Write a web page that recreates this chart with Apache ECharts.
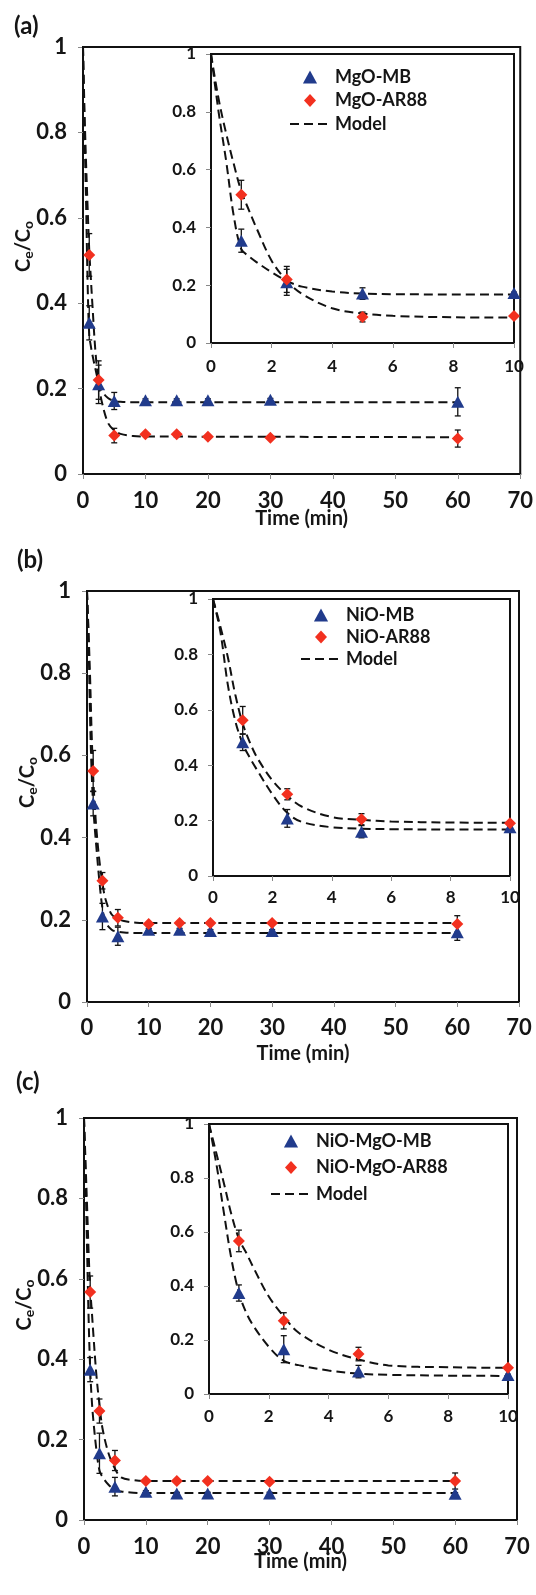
<!DOCTYPE html>
<html>
<head>
<meta charset="utf-8">
<script src="https://cdn.jsdelivr.net/npm/echarts@6.0.0/dist/echarts.min.js"></script>
<style>
html, body { margin: 0; padding: 0; background: #fff; }
#chart { width: 536px; height: 1595px; }
</style>
</head>
<body>
<div id="chart"></div>
<script>
var times = [1, 2.5, 5, 10, 15, 20, 30, 60];
var modelTimes = [0, 0.25, 0.5, 0.75, 1, 1.25, 1.5, 2, 2.5, 3, 4, 5, 6, 8, 10, 15, 20, 30, 60];

// (a) MgO
var mgoMB = [0.354, 0.21, 0.171, 0.173, 0.173, 0.173, 0.174, 0.169];
var mgoMBErr = [0.04, 0.045, 0.02, 0.003, 0.003, 0.003, 0.003, 0.033];
var mgoAR = [0.513, 0.22, 0.09, 0.093, 0.093, 0.087, 0.085, 0.083];
var mgoARErr = [0.05, 0.045, 0.017, 0.003, 0.003, 0.003, 0.003, 0.02];
var mgoMBModel = [1, 0.80, 0.63, 0.44, 0.325, 0.30, 0.28, 0.245, 0.215, 0.195, 0.178, 0.171, 0.169, 0.168, 0.168, 0.168, 0.168, 0.168, 0.168];
var mgoARModel = [1, 0.845, 0.725, 0.62, 0.525, 0.46, 0.398, 0.285, 0.215, 0.17, 0.12, 0.102, 0.094, 0.089, 0.088, 0.088, 0.087, 0.087, 0.086];

// (b) NiO
var nioMB = [0.483, 0.208, 0.16, 0.176, 0.176, 0.173, 0.173, 0.17];
var nioMBErr = [0.03, 0.032, 0.022, 0.003, 0.003, 0.003, 0.003, 0.02];
var nioAR = [0.562, 0.295, 0.205, 0.19, 0.192, 0.192, 0.192, 0.19];
var nioARErr = [0.05, 0.02, 0.02, 0.003, 0.003, 0.003, 0.003, 0.02];
var nioMBModel = [1, 0.88, 0.69, 0.56, 0.478, 0.425, 0.38, 0.295, 0.228, 0.195, 0.176, 0.171, 0.169, 0.168, 0.168, 0.168, 0.168, 0.168, 0.168];
var nioARModel = [1, 0.9, 0.79, 0.655, 0.55, 0.48, 0.425, 0.345, 0.29, 0.25, 0.213, 0.203, 0.197, 0.193, 0.192, 0.192, 0.192, 0.192, 0.192];

// (c) NiO-MgO
var nmMB = [0.374, 0.166, 0.083, 0.07, 0.066, 0.066, 0.066, 0.065];
var nmMBErr = [0.03, 0.05, 0.023, 0.003, 0.003, 0.003, 0.003, 0.003];
var nmAR = [0.567, 0.271, 0.148, 0.097, 0.097, 0.097, 0.095, 0.097];
var nmARErr = [0.04, 0.03, 0.025, 0.003, 0.003, 0.003, 0.003, 0.02];
var nmMBModel = [1, 0.85, 0.67, 0.5, 0.375, 0.3, 0.25, 0.175, 0.123, 0.107, 0.087, 0.075, 0.071, 0.068, 0.067, 0.067, 0.067, 0.067, 0.067];
var nmARModel = [1, 0.89, 0.78, 0.665, 0.575, 0.522, 0.465, 0.361, 0.287, 0.227, 0.164, 0.128, 0.106, 0.099, 0.097, 0.097, 0.097, 0.097, 0.097];

var panelLabels = ['(a)', '(b)', '(c)'];
var mbNames = ['MgO-MB', 'NiO-MB', 'NiO-MgO-MB'];
var arNames = ['MgO-AR88', 'NiO-AR88', 'NiO-MgO-AR88'];

var fontFam = 'Lato, "Open Sans", sans-serif';
var ink = '#151515';
var blue = '#213b8c';
var red = '#f2301f';
var triIcon = 'path://M6,0 L12,11 L0,11 Z';
var diaIcon = 'path://M6,0 L12,6.5 L6,13 L0,6.5 Z';

var panels = [
  { mb: mgoMB, mbErr: mgoMBErr, ar: mgoAR, arErr: mgoARErr, mbModel: mgoMBModel, arModel: mgoARModel,
    main: [83, 47, 441, 427], inset: [211, 54, 303, 289],
    label: [14, 14], legend: [289, 68], legendGap: 5.5, xNameGap: 35, xMargin: 16, insetMargin: 15 },
  { mb: nioMB, mbErr: nioMBErr, ar: nioAR, arErr: nioARErr, mbModel: nioMBModel, arModel: nioARModel,
    main: [87, 591, 432, 411], inset: [213, 599, 297, 277],
    label: [17, 548], legend: [300, 606], legendGap: 4, xNameGap: 42, xMargin: 15, insetMargin: 13 },
  { mb: nmMB, mbErr: nmMBErr, ar: nmAR, arErr: nmARErr, mbModel: nmMBModel, arModel: nmARModel,
    main: [84, 1118, 433, 402], inset: [209, 1124, 299, 270],
    label: [16, 1070], legend: [270, 1132], legendGap: 8.5, xNameGap: 32, xMargin: 16, insetMargin: 14 }
];

function txt(size) {
  return { fontFamily: fontFam, fontWeight: 'bold', fontSize: size, color: ink };
}

function gridOf(r) {
  return { left: r[0], top: r[1], width: r[2], height: r[3], show: true,
    borderColor: '#111', borderWidth: 2, backgroundColor: 'transparent' };
}

function axisCommon(gi, max, step, fs, margin) {
  var lab = txt(fs);
  lab.margin = margin;
  return {
    type: 'value', gridIndex: gi, min: 0, max: max, interval: step,
    axisLine: { show: true, onZero: false, lineStyle: { color: '#111', width: 2 } },
    axisTick: { show: true, inside: false, length: 5, lineStyle: { color: '#888', width: 1 } },
    axisLabel: lab,
    splitLine: { show: false }
  };
}

function errorBar(params, api) {
  var x = api.value(0), y = api.value(1), e = api.value(2);
  var top = api.coord([x, y + e]);
  var bot = api.coord([x, y - e]);
  var w = 3;
  var st = { stroke: '#111', lineWidth: 1.3 };
  return {
    type: 'group',
    children: [
      { type: 'line', shape: { x1: top[0], y1: top[1], x2: bot[0], y2: bot[1] }, style: st },
      { type: 'line', shape: { x1: top[0] - w, y1: top[1], x2: top[0] + w, y2: top[1] }, style: st },
      { type: 'line', shape: { x1: bot[0] - w, y1: bot[1], x2: bot[0] + w, y2: bot[1] }, style: st }
    ]
  };
}

var grids = [], xAxes = [], yAxes = [], series = [], legends = [], titles = [];

panels.forEach(function (p, pi) {
  var gi = grids.length;
  grids.push(gridOf(p.main));
  grids.push(gridOf(p.inset));

  var xm = axisCommon(gi, 70, 10, 22, p.xMargin);
  xm.name = 'Time (min)';
  xm.nameLocation = 'middle';
  xm.nameGap = p.xNameGap;
  xm.nameMoveOverlap = false;
  xm.nameTextStyle = txt(20);
  xAxes.push(xm);
  xAxes.push(axisCommon(gi + 1, 10, 2, 17, p.insetMargin));

  var ym = axisCommon(gi, 1, 0.2, 22, 16);
  ym.name = '{c|C}{s|e}{c|/C}{s|o}';
  ym.nameLocation = 'middle';
  ym.nameGap = 48;
  ym.nameMoveOverlap = false;
  ym.nameRotate = 90;
  ym.nameTextStyle = {
    padding: [0, 0, 0, 28],
    rich: {
      c: { fontFamily: fontFam, fontWeight: 'bold', fontSize: 20, color: ink, lineHeight: 22 },
      s: { fontFamily: fontFam, fontWeight: 'bold', fontSize: 14, color: ink, lineHeight: 22, verticalAlign: 'bottom' }
    }
  };
  yAxes.push(ym);
  yAxes.push(axisCommon(gi + 1, 1, 0.2, 17, 15));

  [gi, gi + 1].forEach(function (idx, k) {
    var maxT = k === 0 ? 60 : 10;
    var pts = function (vals, errs) {
      var out = [];
      times.forEach(function (t, i) {
        if (t <= maxT) out.push(errs ? [t, vals[i], errs[i]] : [t, vals[i]]);
      });
      return out;
    };
    var mdl = function (vals) {
      var out = [];
      modelTimes.forEach(function (t, i) {
        if (t <= maxT) out.push([t, vals[i]]);
      });
      return out;
    };
    [p.mbModel, p.arModel].forEach(function (m) {
      series.push({
        name: 'Model', type: 'line', xAxisIndex: idx, yAxisIndex: idx,
        data: mdl(m), smooth: 0.35, symbol: 'none', showSymbol: false,
        lineStyle: { color: '#111', width: 2, type: [9, 5] }, itemStyle: { color: '#111' },
        z: 2, silent: true
      });
    });
    series.push({ type: 'custom', xAxisIndex: idx, yAxisIndex: idx, renderItem: errorBar,
      data: pts(p.mb, p.mbErr), encode: { x: 0, y: 1 }, z: 3, silent: true });
    series.push({ type: 'custom', xAxisIndex: idx, yAxisIndex: idx, renderItem: errorBar,
      data: pts(p.ar, p.arErr), encode: { x: 0, y: 1 }, z: 3, silent: true });
    series.push({
      name: mbNames[pi], type: 'scatter', xAxisIndex: idx, yAxisIndex: idx,
      data: pts(p.mb), symbol: 'triangle', symbolSize: [13, 12],
      itemStyle: { color: blue, opacity: 1 }, z: 4
    });
    series.push({
      name: arNames[pi], type: 'scatter', xAxisIndex: idx, yAxisIndex: idx,
      data: pts(p.ar), symbol: 'diamond', symbolSize: [12, 12],
      itemStyle: { color: red, opacity: 1 }, z: 5
    });
  });

  legends.push({
    data: [
      { name: mbNames[pi], icon: triIcon },
      { name: arNames[pi], icon: diaIcon },
      { name: 'Model', itemStyle: { color: 'rgba(0,0,0,0)', borderColor: 'rgba(0,0,0,0)', borderWidth: 0 } }
    ],
    orient: 'vertical', left: p.legend[0], top: p.legend[1], padding: 0,
    itemWidth: 40, itemHeight: 13, itemGap: p.legendGap, symbolKeepAspect: true,
    selectedMode: false, textStyle: txt(18)
  });

  titles.push({ text: panelLabels[pi], left: p.label[0], top: p.label[1], padding: 0, textStyle: txt(24) });
});

var chart = echarts.init(document.getElementById('chart'), null, { renderer: 'canvas' });
chart.setOption({
  backgroundColor: '#fff',
  animation: false,
  title: titles,
  legend: legends,
  grid: grids,
  xAxis: xAxes,
  yAxis: yAxes,
  series: series
});
</script>
</body>
</html>
